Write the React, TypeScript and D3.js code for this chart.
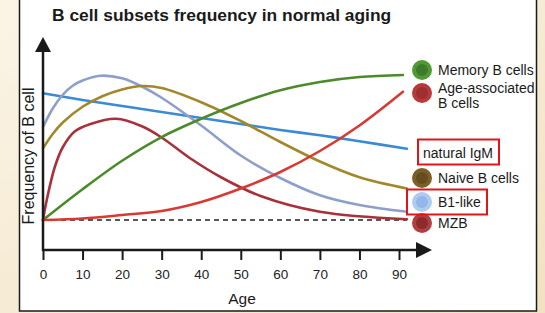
import * as d3 from "d3";
import { useRef, useEffect } from "react";

// ages (years) and relative frequency (0 = dashed baseline)
const igmAge = [0, 10, 20, 30, 40, 50, 60, 70, 80, 92];
const igmVal = [84.5, 80, 76, 72, 68, 64, 60, 56.5, 52.5, 47.5];

const b1Age = [0, 2.5, 5, 7.5, 10, 14.5, 20, 25, 30, 40, 50, 60, 70, 80, 92];
const b1Val = [62, 74.5, 83.5, 89.5, 93, 96.2, 94.5, 89, 81.5, 63, 43, 28, 16.5, 10, 5.5];

const naiveAge = [0, 2.5, 5, 10, 15, 20, 25, 30, 40, 50, 60, 70, 80, 92];
const naiveVal = [47.8, 57.5, 65, 75.5, 82.5, 87, 89.3, 88, 78.5, 66, 52, 39, 28.5, 21];

const mzbAge = [0, 1, 3, 5, 8, 12, 18.5, 25, 30, 37, 45, 55, 70, 92];
const mzbVal = [0, 14, 35.5, 48.5, 59, 64, 67.5, 62.5, 55, 41.5, 28.5, 16, 5.5, 0.5];

const memAge = [0, 10, 20, 30, 40, 50, 60, 70, 80, 91];
const memVal = [0, 20.5, 39.5, 55.3, 67.5, 78, 86.5, 92, 95.3, 96.7];

const abcAge = [0, 10, 20, 30, 40, 50, 60, 70, 80, 91];
const abcVal = [0, 1, 3.3, 6, 12, 21, 32, 46, 63, 85.5];

const ageTicks = [0, 10, 20, 30, 40, 50, 60, 70, 80, 90];

const series = [
  { name: "natural IgM", ages: igmAge, vals: igmVal, color: "#3a8ad4" },
  { name: "B1-like", ages: b1Age, vals: b1Val, color: "#8d9fca" },
  { name: "Naive B cells", ages: naiveAge, vals: naiveVal, color: "#a2882c" },
  { name: "MZB", ages: mzbAge, vals: mzbVal, color: "#a8323c" },
  { name: "Memory B cells", ages: memAge, vals: memVal, color: "#4d8a2c" },
  { name: "Age-associated B cells", ages: abcAge, vals: abcVal, color: "#d83a33" },
];

const legendDots = [
  { label: ["Memory B cells"], outer: "#4f9a32", inner: "#3f7a2c", cy: 70 },
  { label: ["Age-associated", "B cells"], outer: "#b8393a", inner: "#9e2f30", cy: 93 },
  { label: ["Naive B cells"], outer: "#7a5f28", inner: "#654d20", cy: 178 },
  { label: ["B1-like"], outer: "#aecbf0", inner: "#93b7ea", cy: 202 },
  { label: ["MZB"], outer: "#b0403f", inner: "#8e2a2c", cy: 223 },
];

const width = 545;
const height = 313;
const font = "'Liberation Sans', Arial, Helvetica, sans-serif";

export default function App() {
  const gx = useRef<SVGGElement>(null);

  const x = d3.scaleLinear([0, 90], [43, 399]);
  const y = d3.scaleLinear([0, 100], [220, 70]);
  const axisY = y(-20);

  const line = d3
    .line<[number, number]>()
    .x((d) => x(d[0]))
    .y((d) => y(d[1]))
    .curve(d3.curveCatmullRom.alpha(0.5));

  useEffect(() => {
    const g = d3.select(gx.current!);
    g.call(d3.axisBottom(x).tickValues(ageTicks).tickSize(10).tickPadding(9).tickSizeOuter(0));
    g.select(".domain").remove();
    g.selectAll(".tick line").attr("stroke", "#1a1a1a").attr("stroke-width", 2);
    g.selectAll(".tick text")
      .attr("fill", "#222")
      .attr("font-size", 13.5)
      .attr("font-family", font);
  }, [x]);

  return (
    <svg
      width={width}
      height={height}
      style={{ position: "absolute", left: 0, top: 0 }}
      fontFamily={font}
    >
      <defs>
        <linearGradient id="bg" x1="0" x2="1" y1="0" y2="1">
          <stop offset="0" stopColor="#fbf4e6" />
          <stop offset="1" stopColor="#f1e2c2" />
        </linearGradient>
      </defs>
      <rect width={width} height={height} fill="url(#bg)" />
      <rect x={19.5} y={-2} width={517} height={313} fill="#fff" stroke="#1a1a1a" strokeWidth={1.5} />

      <text x={52} y={21} fontSize={17.4} fontWeight="bold" fill="#1a1a1a">
        B cell subsets frequency in normal aging
      </text>

      {/* dashed baseline */}
      <line
        x1={x(0)}
        x2={x(92)}
        y1={y(0)}
        y2={y(0)}
        stroke="#222"
        strokeWidth={1.5}
        strokeDasharray="5,4"
      />

      {series.map((s) => (
        <path
          key={s.name}
          d={line(s.ages.map((a, i) => [a, s.vals[i]] as [number, number])) as string}
          fill="none"
          stroke={s.color}
          strokeWidth={2.6}
          strokeLinecap="round"
        />
      ))}

      {/* axes with arrows */}
      <line x1={x(0)} x2={x(0)} y1={axisY + 1} y2={50} stroke="#1a1a1a" strokeWidth={2.5} />
      <path d={`M${x(0) - 8},52 L${x(0)},37 L${x(0) + 8},52 Z`} fill="#1a1a1a" />
      <line x1={x(0) - 1} x2={418} y1={axisY} y2={axisY} stroke="#1a1a1a" strokeWidth={2.5} />
      <path d={`M416,${axisY - 8} L432,${axisY} L416,${axisY + 8} Z`} fill="#1a1a1a" />

      <g ref={gx} transform={`translate(0,${axisY})`} />

      <text x={242} y={304} fontSize={15.5} textAnchor="middle" fill="#1a1a1a">
        Age
      </text>
      <text
        transform={`translate(34,156) rotate(-90)`}
        fontSize={16}
        textAnchor="middle"
        fill="#1a1a1a"
      >
        Frequency of B cell
      </text>

      {/* legend */}
      {legendDots.map((l) => (
        <g key={l.label[0]}>
          <circle cx={422} cy={l.cy} r={10} fill={l.outer} />
          <circle cx={422} cy={l.cy} r={6} fill={l.inner} />
          {l.label.map((t, i) => (
            <text key={t} x={438} y={l.cy + 4.5 - (l.label.length - 1) * 5 + i * 15} fontSize={14} fill="#1a1a1a">
              {t}
            </text>
          ))}
        </g>
      ))}
      <text x={423} y={157.5} fontSize={14} fill="#1a1a1a">
        natural IgM
      </text>
      <rect x={418} y={139.5} width={81} height={25} fill="none" stroke="#e2141a" strokeWidth={2} />
      <rect x={407} y={189.5} width={80} height={25} fill="none" stroke="#e2141a" strokeWidth={2} />
    </svg>
  );
}
